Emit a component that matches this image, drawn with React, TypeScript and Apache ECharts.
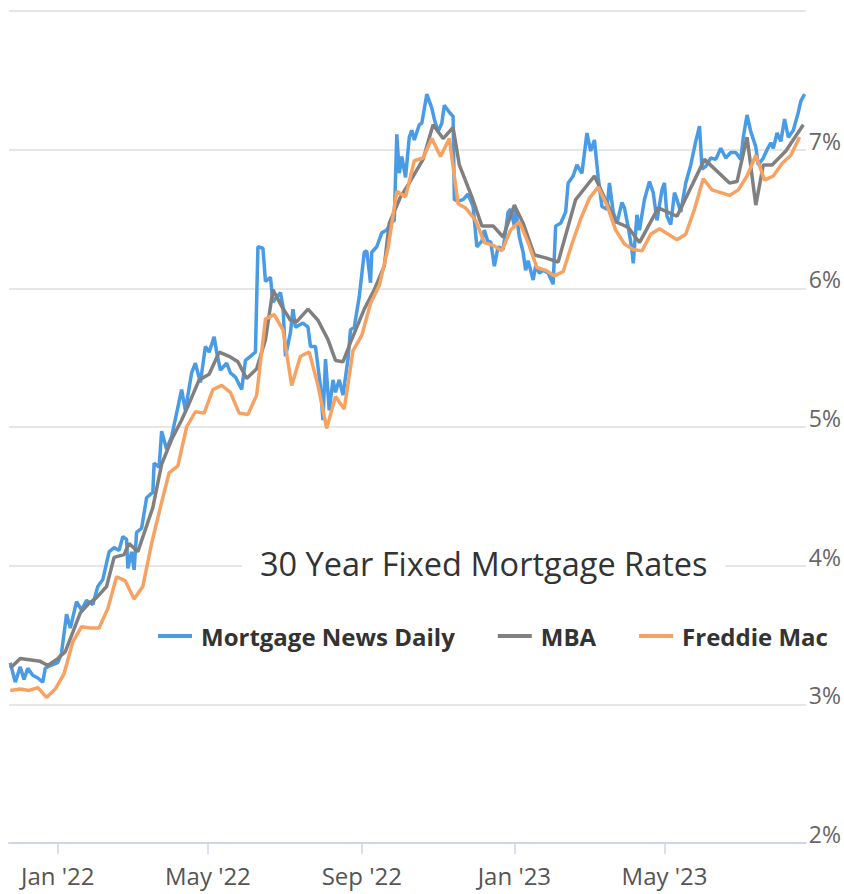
import React, { useEffect, useRef } from "react";
import * as echarts from "echarts";

const FONT = "'Open Sans', sans-serif";

const seriesNames = ["Mortgage News Daily", "MBA", "Freddie Mac"];
const seriesColors = ["#4a9be6", "#808080", "#f5a263"];

const tickDates = ["2022-01-01", "2022-05-01", "2022-09-01", "2023-01-01", "2023-05-01"];
const tickLabels = ["Jan '22", "May '22", "Sep '22", "Jan '23", "May '23"];

const xStart = "2021-11-23";
const xEnd = "2023-08-22";

const mndData: [string, number][] = [
  ["2021-11-24", 3.30], ["2021-11-28", 3.16], ["2021-12-02", 3.27], ["2021-12-05", 3.18], ["2021-12-08", 3.26],
  ["2021-12-12", 3.21], ["2021-12-16", 3.19], ["2021-12-20", 3.16], ["2021-12-22", 3.26], ["2021-12-26", 3.28],
  ["2022-01-01", 3.30], ["2022-01-04", 3.37], ["2022-01-08", 3.65], ["2022-01-11", 3.55], ["2022-01-16", 3.74],
  ["2022-01-20", 3.68], ["2022-01-24", 3.75], ["2022-01-29", 3.72], ["2022-02-02", 3.85], ["2022-02-06", 3.90],
  ["2022-02-11", 4.10], ["2022-02-15", 4.13], ["2022-02-19", 4.11], ["2022-02-22", 4.21], ["2022-02-25", 4.19],
  ["2022-02-26", 3.98], ["2022-03-01", 4.10], ["2022-03-03", 3.97], ["2022-03-05", 4.24], ["2022-03-09", 4.27],
  ["2022-03-13", 4.49], ["2022-03-18", 4.53], ["2022-03-19", 4.74], ["2022-03-23", 4.71], ["2022-03-25", 4.97],
  ["2022-03-29", 4.84], ["2022-04-02", 4.93], ["2022-04-06", 5.10], ["2022-04-10", 5.27], ["2022-04-13", 5.12],
  ["2022-04-18", 5.39], ["2022-04-21", 5.46], ["2022-04-25", 5.32], ["2022-04-29", 5.58], ["2022-05-02", 5.54],
  ["2022-05-06", 5.65], ["2022-05-08", 5.54], ["2022-05-11", 5.41], ["2022-05-16", 5.46], ["2022-05-19", 5.39],
  ["2022-05-23", 5.36], ["2022-05-28", 5.27], ["2022-05-31", 5.48], ["2022-06-04", 5.51], ["2022-06-08", 5.54],
  ["2022-06-10", 6.30], ["2022-06-14", 6.29], ["2022-06-16", 6.05], ["2022-06-20", 6.08], ["2022-06-22", 5.90],
  ["2022-06-28", 5.97], ["2022-06-30", 5.87], ["2022-07-02", 5.51], ["2022-07-06", 5.68], ["2022-07-08", 5.85],
  ["2022-07-10", 5.72], ["2022-07-16", 5.75], ["2022-07-20", 5.72], ["2022-07-22", 5.58], ["2022-07-26", 5.58],
  ["2022-07-30", 5.29], ["2022-08-01", 5.05], ["2022-08-03", 5.49], ["2022-08-06", 5.12], ["2022-08-09", 5.34],
  ["2022-08-11", 5.25], ["2022-08-14", 5.34], ["2022-08-17", 5.23], ["2022-08-21", 5.49], ["2022-08-23", 5.70],
  ["2022-08-26", 5.72], ["2022-08-30", 5.94], ["2022-09-03", 6.26], ["2022-09-05", 6.27], ["2022-09-08", 6.04],
  ["2022-09-09", 6.26], ["2022-09-13", 6.30], ["2022-09-17", 6.40], ["2022-09-21", 6.42], ["2022-09-24", 6.47],
  ["2022-09-27", 6.49], ["2022-09-29", 7.11], ["2022-10-01", 6.83], ["2022-10-03", 6.95], ["2022-10-06", 6.80],
  ["2022-10-09", 7.09], ["2022-10-11", 7.14], ["2022-10-13", 7.07], ["2022-10-17", 7.18], ["2022-10-19", 7.19],
  ["2022-10-23", 7.40], ["2022-10-27", 7.30], ["2022-10-29", 7.22], ["2022-11-01", 7.13], ["2022-11-04", 7.19],
  ["2022-11-06", 7.32], ["2022-11-10", 7.27], ["2022-11-13", 7.24], ["2022-11-14", 6.64], ["2022-11-17", 6.63],
  ["2022-11-21", 6.64], ["2022-11-25", 6.68], ["2022-11-29", 6.59], ["2022-12-02", 6.30], ["2022-12-06", 6.34],
  ["2022-12-08", 6.42], ["2022-12-11", 6.33], ["2022-12-13", 6.34], ["2022-12-16", 6.16], ["2022-12-19", 6.30],
  ["2022-12-23", 6.28], ["2022-12-27", 6.55], ["2022-12-29", 6.57], ["2023-01-01", 6.45], ["2023-01-02", 6.57],
  ["2023-01-05", 6.37], ["2023-01-08", 6.26], ["2023-01-10", 6.13], ["2023-01-12", 6.20], ["2023-01-16", 6.06],
  ["2023-01-18", 6.16], ["2023-01-21", 6.11], ["2023-01-24", 6.13], ["2023-01-28", 6.11], ["2023-02-01", 6.03],
  ["2023-02-03", 6.45], ["2023-02-07", 6.47], ["2023-02-11", 6.55], ["2023-02-13", 6.76], ["2023-02-17", 6.81],
  ["2023-02-20", 6.89], ["2023-02-24", 6.83], ["2023-02-28", 7.12], ["2023-03-03", 6.99], ["2023-03-06", 7.07],
  ["2023-03-09", 6.80], ["2023-03-12", 6.59], ["2023-03-16", 6.57], ["2023-03-18", 6.76], ["2023-03-21", 6.55],
  ["2023-03-24", 6.47], ["2023-03-28", 6.62], ["2023-03-30", 6.58], ["2023-04-02", 6.44], ["2023-04-05", 6.28],
  ["2023-04-06", 6.18], ["2023-04-09", 6.53], ["2023-04-11", 6.42], ["2023-04-15", 6.64], ["2023-04-19", 6.77],
  ["2023-04-22", 6.69], ["2023-04-25", 6.49], ["2023-04-29", 6.71], ["2023-05-01", 6.76], ["2023-05-03", 6.52],
  ["2023-05-06", 6.46], ["2023-05-09", 6.69], ["2023-05-11", 6.64], ["2023-05-14", 6.55], ["2023-05-18", 6.76],
  ["2023-05-22", 6.89], ["2023-05-26", 7.06], ["2023-05-29", 7.17], ["2023-05-31", 6.86], ["2023-06-03", 6.88],
  ["2023-06-07", 6.94], ["2023-06-11", 6.93], ["2023-06-15", 7.01], ["2023-06-19", 6.94], ["2023-06-23", 6.98],
  ["2023-06-27", 6.98], ["2023-07-01", 6.93], ["2023-07-03", 7.09], ["2023-07-06", 7.25], ["2023-07-09", 7.13],
  ["2023-07-13", 7.02], ["2023-07-15", 6.89], ["2023-07-19", 6.94], ["2023-07-22", 7.00], ["2023-07-25", 7.05],
  ["2023-07-27", 7.01], ["2023-07-30", 7.12], ["2023-08-02", 7.06], ["2023-08-05", 7.22], ["2023-08-08", 7.09],
  ["2023-08-12", 7.14], ["2023-08-16", 7.27], ["2023-08-18", 7.35], ["2023-08-21", 7.40],
];

const mbaData: [string, number][] = [
  ["2021-11-24", 3.26], ["2021-12-02", 3.33], ["2021-12-18", 3.31], ["2021-12-24", 3.28], ["2022-01-01", 3.33],
  ["2022-01-07", 3.38], ["2022-01-19", 3.66], ["2022-01-25", 3.72], ["2022-02-01", 3.77], ["2022-02-09", 3.85],
  ["2022-02-15", 4.06], ["2022-02-23", 4.08], ["2022-02-27", 4.16], ["2022-03-06", 4.10], ["2022-03-18", 4.42],
  ["2022-03-25", 4.73], ["2022-04-02", 4.91], ["2022-04-10", 5.05], ["2022-04-16", 5.17], ["2022-04-24", 5.34],
  ["2022-05-02", 5.38], ["2022-05-10", 5.54], ["2022-05-18", 5.51], ["2022-05-25", 5.47], ["2022-06-01", 5.35],
  ["2022-06-09", 5.42], ["2022-06-16", 5.63], ["2022-06-22", 5.99], ["2022-06-29", 5.87], ["2022-07-06", 5.77],
  ["2022-07-11", 5.76], ["2022-07-20", 5.85], ["2022-07-28", 5.77], ["2022-08-05", 5.63], ["2022-08-11", 5.48],
  ["2022-08-17", 5.47], ["2022-08-23", 5.61], ["2022-09-03", 5.85], ["2022-09-11", 5.99], ["2022-09-19", 6.16],
  ["2022-09-23", 6.47], ["2022-10-02", 6.66], ["2022-10-09", 6.76], ["2022-10-20", 6.93], ["2022-10-28", 7.18],
  ["2022-11-05", 7.08], ["2022-11-13", 7.16], ["2022-11-18", 6.89], ["2022-11-28", 6.66], ["2022-12-06", 6.45],
  ["2022-12-15", 6.45], ["2022-12-23", 6.37], ["2023-01-01", 6.60], ["2023-01-08", 6.47], ["2023-01-17", 6.24],
  ["2023-01-26", 6.22], ["2023-02-05", 6.19], ["2023-02-19", 6.64], ["2023-03-06", 6.81], ["2023-03-23", 6.48],
  ["2023-04-02", 6.44], ["2023-04-11", 6.33], ["2023-04-26", 6.58], ["2023-05-11", 6.52], ["2023-06-02", 6.93],
  ["2023-06-22", 6.76], ["2023-06-28", 6.77], ["2023-07-06", 7.09], ["2023-07-13", 6.60], ["2023-07-19", 6.89],
  ["2023-07-26", 6.89], ["2023-08-06", 6.99], ["2023-08-20", 7.18],
];

const freddieData: [string, number][] = [
  ["2021-11-24", 3.10], ["2021-12-02", 3.11], ["2021-12-09", 3.10], ["2021-12-16", 3.12], ["2021-12-23", 3.05],
  ["2021-12-30", 3.11], ["2022-01-06", 3.22], ["2022-01-13", 3.45], ["2022-01-20", 3.56], ["2022-01-27", 3.55],
  ["2022-02-03", 3.55], ["2022-02-10", 3.69], ["2022-02-17", 3.92], ["2022-02-24", 3.89], ["2022-03-03", 3.76],
  ["2022-03-10", 3.85], ["2022-03-17", 4.16], ["2022-03-24", 4.42], ["2022-03-31", 4.67], ["2022-04-07", 4.72],
  ["2022-04-14", 5.00], ["2022-04-21", 5.11], ["2022-04-28", 5.10], ["2022-05-05", 5.27], ["2022-05-12", 5.30],
  ["2022-05-19", 5.25], ["2022-05-26", 5.10], ["2022-06-02", 5.09], ["2022-06-09", 5.23], ["2022-06-16", 5.78],
  ["2022-06-23", 5.81], ["2022-06-30", 5.70], ["2022-07-07", 5.30], ["2022-07-14", 5.51], ["2022-07-21", 5.54],
  ["2022-07-28", 5.30], ["2022-08-04", 4.99], ["2022-08-11", 5.22], ["2022-08-18", 5.13], ["2022-08-25", 5.55],
  ["2022-09-01", 5.66], ["2022-09-08", 5.89], ["2022-09-15", 6.02], ["2022-09-22", 6.29], ["2022-09-29", 6.70],
  ["2022-10-06", 6.66], ["2022-10-13", 6.92], ["2022-10-20", 6.94], ["2022-10-27", 7.08], ["2022-11-03", 6.95],
  ["2022-11-10", 7.08], ["2022-11-17", 6.61], ["2022-11-23", 6.58], ["2022-12-01", 6.49], ["2022-12-08", 6.33],
  ["2022-12-15", 6.31], ["2022-12-22", 6.27], ["2022-12-29", 6.42], ["2023-01-05", 6.48], ["2023-01-12", 6.33],
  ["2023-01-19", 6.15], ["2023-01-26", 6.13], ["2023-02-02", 6.09], ["2023-02-09", 6.12], ["2023-02-16", 6.32],
  ["2023-02-23", 6.50], ["2023-03-02", 6.65], ["2023-03-09", 6.73], ["2023-03-16", 6.60], ["2023-03-23", 6.42],
  ["2023-03-30", 6.32], ["2023-04-06", 6.28], ["2023-04-13", 6.27], ["2023-04-20", 6.39], ["2023-04-27", 6.43],
  ["2023-05-04", 6.39], ["2023-05-11", 6.35], ["2023-05-18", 6.39], ["2023-05-25", 6.57], ["2023-06-01", 6.79],
  ["2023-06-08", 6.71], ["2023-06-15", 6.69], ["2023-06-22", 6.67], ["2023-06-29", 6.71], ["2023-07-06", 6.81],
  ["2023-07-13", 6.96], ["2023-07-20", 6.78], ["2023-07-27", 6.81], ["2023-08-03", 6.90], ["2023-08-10", 6.96],
  ["2023-08-17", 7.09],
];

function toTs(s: string): number {
  const [y, m, d] = s.split("-").map(Number);
  return Date.UTC(y, m - 1, d);
}

export default function App() {
  const ref = useRef<HTMLDivElement>(null);
  useEffect(() => {
    document.body.style.margin = "0";
    const chart = echarts.init(ref.current!, null, { renderer: "svg" });
    const tickTs = tickDates.map(toTs);
    const allData = [mndData, mbaData, freddieData];
    chart.setOption({
      animation: false,
      backgroundColor: "#ffffff",
      title: {
        text: "30 Year Fixed Mortgage Rates",
        left: 242,
        top: 537,
        backgroundColor: "#ffffff",
        padding: [4, 18],
        textStyle: { fontFamily: FONT, fontSize: 32.5, fontWeight: "normal", color: "#333333", lineHeight: 44 },
      },
      legend: {
        left: 158,
        top: 624,
        padding: 0,
        icon: "rect",
        itemWidth: 34,
        itemHeight: 4,
        itemGap: 43,
        data: seriesNames,
        textStyle: { fontFamily: FONT, fontSize: 24, fontWeight: "bold", color: "#333333", padding: [0, 0, 0, 4] },
      },
      grid: { left: 9, right: 31, top: 11, bottom: 51, containLabel: false },
      xAxis: {
        type: "value",
        min: toTs(xStart),
        max: toTs(xEnd),
        splitLine: { show: false },
        axisLine: { show: true, lineStyle: { color: "#ccd6eb", width: 2 } },
        axisTick: { show: true, customValues: tickTs, length: 11, lineStyle: { color: "#ccd6eb", width: 1.5 } },
        axisLabel: {
          customValues: tickTs,
          formatter: (v: number) => {
            const i = tickTs.findIndex((t) => Math.abs(t - v) < 86400000);
            return i >= 0 ? tickLabels[i] : "";
          },
          color: "#555555",
          fontFamily: FONT,
          fontSize: 24,
          margin: 20,
        },
      },
      yAxis: {
        type: "value",
        position: "right",
        min: 2,
        max: 8,
        interval: 1,
        axisLine: { show: false },
        axisTick: { show: false },
        splitLine: { lineStyle: { color: "#e6e6e6", width: 2 } },
        axisLabel: {
          formatter: "{value}%",
          showMaxLabel: false,
          color: "#666666",
          fontFamily: FONT,
          fontSize: 23,
          margin: 3,
          verticalAlign: "bottom",
          lineHeight: 18,
        },
      },
      series: seriesNames.map((name, i) => ({
        name,
        type: "line",
        data: allData[i].map(([d, v]) => [toTs(d), v]),
        showSymbol: false,
        symbol: "none",
        color: seriesColors[i],
        lineStyle: { color: seriesColors[i], width: 3.5 },
        z: 2 + i,
      })),
    });
    return () => chart.dispose();
  }, []);
  return <div ref={ref} style={{ width: 844, height: 894 }} />;
}
